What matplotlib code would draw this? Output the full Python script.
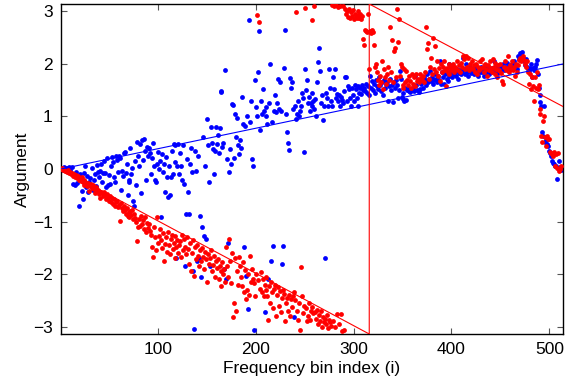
import numpy as np
import matplotlib
matplotlib.use("Agg")
import matplotlib.pyplot as plt

# frequency bins 1..512
bins = np.arange(1, 513)

# argument of the first spectrum (blue dots), one value per bin
blue_arg = [
    0.00, 0.02, -0.02, 0.03, 0.01, -0.03, 0.02, -0.05, 0.04, -0.02,
    -0.08, 0.03, -0.28, -0.12, -0.30, -0.05, -0.27, -0.15, -0.70, -0.10,
    -0.19, -0.41, -0.57, -0.08, -0.22, 0.05, -0.35, -0.13, -0.44, -0.25,
    -0.18, -0.30, 0.02, -0.40, -0.20, -0.10, -0.33, 0.08, -0.05, -0.15,
    -0.03, 0.10, -0.25, -0.08, 0.15, -0.08, -0.35, 0.20, -0.30, -0.12,
    -0.28, 0.05, 0.22, 0.14, -0.15, -0.25, 0.25, 0.18, -0.05, 0.24,
    0.20, -0.40, -0.04, -0.13, 0.30, 0.32, -0.08, 0.10, -0.50, -0.20,
    -0.25, 0.40, -0.10, 0.02, -0.60, -0.70, 0.15, -0.30, 0.51, 0.25,
    0.06, 0.48, -0.45, 0.55, 0.18, 0.57, 0.35, -0.20, 0.42, 0.25,
    0.40, 0.30, -0.10, 0.20, 0.50, 0.05, -0.20, -0.25, 0.10, 0.32,
    0.00, 0.15, -0.91, 0.28, -0.05, 0.10, -0.44, 0.22, -0.16, -0.53,
    0.05, -0.50, -0.16, 0.35, -0.10, 0.48, 0.13, 0.45, -1.70, 0.06,
    0.48, -0.10, 0.30, 0.06, -0.20, 0.46, -0.28, -1.84, -0.86, 0.19,
    -0.44, -0.86, 0.10, 0.40, -0.05, -1.95, -3.05, 0.34, -0.03, -1.75,
    0.25, -1.70, -0.89, -2.05, -1.10, 0.60, -1.27, 0.06, -1.33, 0.95,
    0.45, -0.25, -1.85, 0.80, 0.50, 0.38, -0.10, 0.35, 0.80, 0.48,
    0.65, 0.30, 0.78, 1.46, 1.48, 0.42, 0.50, -1.90, 1.88, -2.09,
    0.19, -1.41, -0.06, 0.38, 0.10, 1.23, 1.22, 0.20, 1.04, 0.60,
    0.97, 0.45, 0.28, 0.55, 0.40, 1.38, 0.85, -1.48, 0.82, -2.03,
    1.00, -2.66, 2.83, 0.90, 1.30, 0.19, 0.06, -3.07, 1.69, 1.18,
    1.00, 1.84, 2.62, 0.75, 1.29, 1.04, 1.52, 1.10, -2.73, 1.18,
    1.00, 0.85, -2.09, 1.25, 2.00, -1.75, 0.90, -1.46, 1.10, 1.40,
    1.08, 1.25, 1.71, 1.15, 1.65, 1.10, -1.80, -1.46, 1.92, 2.65,
    1.04, 0.70, 0.50, 0.36, 1.74, 1.54, 1.65, 1.15, -2.81, 1.20,
    0.95, 1.05, 1.30, 1.00, 1.10, 1.20, 1.45, 1.35, 0.32, 1.90,
    1.50, 1.70, 1.25, 1.38, 1.10, 1.25, 1.20, 1.45, 1.30, 1.15,
    1.33, 1.00, 1.65, 2.03, 2.31, 1.86, 1.25, 1.40, 0.93, 1.20,
    -1.69, 1.45, 1.35, 1.20, 1.90, 1.55, 1.30, 1.20, 1.75, 1.52,
    1.90, 1.35, 1.42, 1.30, 1.40, 1.20, 1.38, 1.32, 1.25, 1.48,
    1.75, 1.75, 1.30, 1.58, 1.52, 1.35, 1.20, 1.55, 1.40, 1.30,
    1.60, 1.52, 1.35, 1.58, 1.20, 1.45, 1.55, 1.42, 1.60, 1.50,
    1.55, 1.48, 1.62, 1.45, 1.58, 1.40, 1.77, 1.55, 1.68, 1.50,
    1.62, 1.45, 1.70, 1.58, 1.52, 1.75, 1.60, 1.48, 1.65, 1.40,
    1.70, 1.55, 1.62, 1.66, 1.30, 1.58, 1.72, 1.50, 1.60, 1.27,
    1.65, 1.55, 1.70, 1.60, 1.35, 1.50, 1.86, 1.71, 1.38, 1.45,
    1.33, 1.29, 1.55, 1.32, 1.50, 1.55, 1.48, 1.46, 1.52, 1.50,
    1.55, 1.48, 1.77, 1.60, 1.50, 1.70, 1.47, 1.52, 1.62, 1.67,
    1.55, 1.75, 1.70, 1.60, 1.80, 1.65, 1.72, 1.86, 1.68, 1.75,
    1.62, 1.70, 1.80, 1.72, 1.65, 1.78, 1.70, 2.05, 1.61, 1.85,
    1.75, 1.61, 1.80, 1.90, 1.72, 1.68, 2.00, 1.78, 1.82, 1.86,
    1.75, 1.95, 1.80, 1.85, 1.78, 1.90, 1.72, 1.82, 1.88, 1.80,
    1.85, 2.12, 1.90, 1.80, 2.00, 1.85, 1.78, 1.90, 1.95, 1.82,
    1.88, 1.86, 1.80, 1.92, 1.85, 1.86, 1.78, 1.90, 1.85, 1.95,
    1.85, 1.90, 1.77, 1.92, 1.88, 1.82, 1.95, 1.80, 1.90, 1.85,
    1.92, 1.88, 2.05, 1.90, 1.95, 1.85, 1.93, 1.82, 1.98, 1.90,
    1.95, 1.90, 2.00, 1.88, 1.95, 1.92, 2.02, 1.88, 1.97, 1.94,
    1.90, 2.00, 1.95, 2.05, 1.92, 1.98, 1.90, 2.15, 2.10, 2.20,
    2.18, 2.22, 2.12, 2.05, 1.98, 2.10, 1.95, 1.90, 1.86, 1.93,
    2.00, 1.75, 1.92, 1.88, 1.95, 2.00, 2.07, 1.80, 1.55, 1.40,
    1.27, 1.20, 0.70, 0.63, 1.20, 0.51, 0.55, 0.48, 0.44, 0.35,
    0.30, 0.25, 0.15, 0.12, 0.10, 0.06, 0.05, -0.19, 0.02, 0.15,
    0.04, -0.02,
]

# argument of the second spectrum (red dots)
red_arg = [
    0.00, 0.01, -0.02, -0.01, -0.04, -0.03, -0.06, -0.02, -0.08, -0.05,
    -0.10, -0.07, -0.13, -0.09, -0.15, -0.12, -0.18, -0.14, -0.20, -0.17,
    -0.22, -0.16, -0.25, -0.21, -0.30, -0.24, -0.27, -0.33, -0.26, -0.41,
    -0.32, -0.28, -0.36, -0.30, -0.38, -0.45, -0.35, -0.42, -0.40, -0.48,
    -0.55, -0.43, -0.46, -0.52, -0.44, -0.50, -0.58, -0.48, -0.55, -0.60,
    -0.52, -0.62, -0.56, -0.66, -0.58, -0.70, -0.63, -0.60, -0.72, -0.68,
    -0.99, -0.65, -0.75, -0.80, -0.70, -0.78, -0.85, -0.74, -0.90, -0.82,
    -0.92, -0.80, -0.88, -0.78, -0.95, -0.86, -0.94, -1.00, -1.37, -1.10,
    -0.95, -1.08, -0.90, -1.05, -0.98, -1.15, -0.92, -1.20, -1.02, -1.12,
    -1.05, -1.18, -1.25, -1.48, -1.67, -1.10, -1.30, -1.55, -0.91, -1.40,
    -1.27, -1.15, -1.35, -1.50, -1.22, -1.75, -1.42, -1.30, -1.58, -1.20,
    -1.45, -1.62, -1.33, -1.25, -1.52, -1.40, -1.28, -1.70, -1.48, -1.35,
    -1.60, -1.45, -1.38, -1.67, -1.25, -1.55, -1.33, -1.48, -1.62, -1.30,
    -1.52, -1.80, -1.40, -1.95, -1.60, -1.35, -2.03, -1.48, -1.72, -1.45,
    -1.65, -1.85, -1.55, -1.76, -1.50, -1.68, -1.90, -1.58, -1.72, -2.15,
    -1.62, -1.80, -1.70, -1.55, -1.95, -1.82, -1.65, -2.05, -1.76, -1.88,
    -1.72, -2.10, -1.85, -1.95, -2.22, -1.78, -2.00, -1.90, -2.15, -1.48,
    -1.85, -2.05, -1.33, -1.76, -2.18, -1.60, -2.81, -2.55, -1.70, -2.70,
    -1.94, -2.20, -1.67, -1.85, -2.05, -2.22, -1.78, -2.35, -1.92, -2.47,
    -2.30, -2.00, -2.40, -1.65, -2.15, -1.90, -2.09, -2.18, -2.42, -2.00,
    2.94, -2.12, 2.80, -2.28, -1.96, -2.35, -2.10, -2.41, -2.20, -2.05,
    -2.30, -2.41, -2.88, -2.22, -2.56, -2.15, -2.35, -2.65, -2.28, -2.20,
    -2.79, -2.40, -2.25, -2.60, -2.33, -2.72, -2.45, -2.30, -2.38, -2.90,
    -2.56, -2.45, -2.70, -2.40, -2.79, -2.47, -2.62, -2.42, -2.35, -2.50,
    2.98, -2.70, -2.88, -2.55, -3.07, -1.86, -2.41, -2.75, -2.60, 3.07,
    -2.65, -2.90, -2.80, -2.55, -2.88, -2.70, -2.62, 2.83, -2.75, 3.10,
    -2.72, -2.85, -2.68, -2.95, -2.78, -2.90, -2.70, -3.00, -2.82, -2.92,
    -2.85, -2.95, -2.78, -3.02, -2.88, -2.92, -2.98, 3.13, -2.90, 3.10,
    -3.00, 3.12, -2.77, 3.08, -2.95, 3.10, -2.77, -3.09, 3.11, -3.07,
    3.04, 2.95, 3.00, 2.90, 3.05, 2.88, 2.98, 2.92, 3.02, 2.85,
    2.95, 2.90, 2.87, 3.00, 2.93, 2.88, 2.96, 2.86, 2.92, 2.47,
    2.37, 2.65, 2.62, 2.60, 2.95, 1.90, 2.62, 2.58, 2.65, 2.60,
    2.37, 1.95, 2.00, 1.85, 1.70, 1.60, 1.78, 1.65, 2.05, 1.52,
    1.90, 1.75, 1.62, 1.80, 1.95, 1.70, 2.70, 1.85, 2.45, 1.65,
    2.24, 2.30, 1.75, 3.04, 2.41, 2.85, 1.77, 2.00, 1.95, 1.60,
    1.55, 1.90, 1.65, 1.86, 1.70, 1.60, 1.78, 1.67, 1.55, 1.80,
    1.62, 1.75, 1.58, 1.80, 1.68, 1.72, 1.65, 1.80, 1.74, 1.70,
    1.78, 1.65, 1.85, 2.70, 2.28, 2.40, 1.72, 1.95, 2.12, 1.80,
    2.50, 1.90, 2.35, 1.85, 2.05, 1.77, 1.92, 1.67, 2.00, 1.85,
    1.95, 2.05, 1.88, 1.58, 1.92, 1.85, 2.00, 1.80, 1.95, 1.88,
    1.92, 2.00, 1.85, 1.95, 1.90, 2.05, 1.88, 1.98, 1.85, 2.02,
    1.95, 2.15, 2.10, 1.90, 2.15, 1.95, 2.12, 1.88, 2.00, 1.92,
    2.05, 1.90, 1.98, 1.85, 2.00, 1.80, 1.95, 1.88, 2.05, 1.92,
    2.10, 1.95, 1.85, 2.00, 1.90, 1.78, 1.98, 1.88, 2.05, 1.92,
    1.85, 2.10, 1.95, 1.80, 2.02, 1.90, 1.75, 1.98, 1.88, 2.00,
    1.82, 1.67, 1.61, 1.95, 2.05, 1.88, 1.92, 2.15, 1.85, 1.98,
    1.90, 2.05, 1.88, 1.95, 1.77, 2.00, 1.85, 1.98, 2.08, 2.12,
    2.05, 2.10, 2.15, 2.08, 2.00, 1.95, 2.05, 1.84, 1.61, 1.80,
    1.52, 1.75, 1.58, 1.29, 1.76, 1.55, 1.84, 1.52, 1.60, 1.14,
    1.04, 0.63, 0.51, 0.91, 1.00, 0.60, 0.44, 0.63, 0.57, 0.58,
    0.32, 0.30, 0.28, 0.25, 0.32, 0.06, 0.28, 0.02, 0.30, -0.04,
    0.00, 0.05,
]

# fitted linear phase, blue straight, red wrapped at -pi
blue_fit_x = [1, 514]
blue_fit_y = [0.0, 2.0]
red_fit_x = [1, 316, 316, 514]
red_fit_y = [0.0, -np.pi, np.pi, 1.19]

plt.rcParams['font.family'] = ['Liberation Sans', 'DejaVu Sans']
plt.rcParams['font.size'] = 12.5

fig = plt.figure(figsize=(5.76, 3.85), dpi=100)
ax = fig.add_axes([61/576, 51/385, 502/576, 330/385])

ax.scatter(bins, blue_arg, s=12, c='#0000ff', linewidths=0, zorder=2)
ax.scatter(bins, red_arg, s=12, c='#ff0000', linewidths=0, zorder=3)
ax.plot(blue_fit_x, blue_fit_y, color='#0000ff', lw=0.8, zorder=4)
ax.plot(red_fit_x, red_fit_y, color='#ff0000', lw=0.8, zorder=4)

ax.set_xlim(1, 514)
ax.set_ylim(-np.pi, np.pi)
ax.set_xticks([100, 200, 300, 400, 500])
ax.set_yticks([-3, -2, -1, 0, 1, 2, 3])
ax.tick_params(direction='in', top=True, right=True, length=4, width=0.8,
               color='#555555', labelsize=12.5, pad=6)
for s in ax.spines.values():
    s.set_linewidth(1.0)

ax.set_xlabel('Frequency bin index (i)', fontsize=12.5, labelpad=3)
ax.set_ylabel('Argument', fontsize=12.5, labelpad=2)

fig.savefig('out.png', dpi=100)
